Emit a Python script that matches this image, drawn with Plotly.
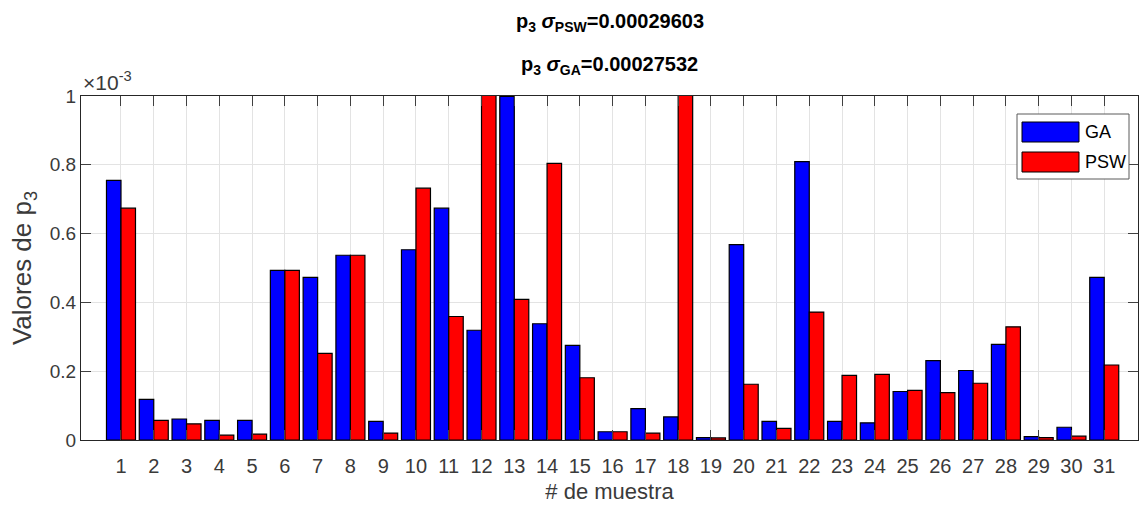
import plotly.graph_objects as go

# Sample index and p3 estimates (in units of 1e-3)
muestras = list(range(1, 32))
ga_vals = [0.755, 0.118, 0.061, 0.057, 0.057, 0.493, 0.473, 0.537, 0.054, 0.553,
           0.674, 0.319, 0.999, 0.338, 0.275, 0.024, 0.091, 0.067, 0.007, 0.568,
           0.054, 0.809, 0.054, 0.050, 0.141, 0.231, 0.202, 0.278, 0.010, 0.037,
           0.473]
psw_vals = [0.674, 0.057, 0.047, 0.014, 0.017, 0.493, 0.252, 0.537, 0.020, 0.732,
            0.359, 1.150, 0.409, 0.804, 0.181, 0.024, 0.020, 1.100, 0.006, 0.162,
            0.034, 0.372, 0.188, 0.191, 0.144, 0.138, 0.165, 0.329, 0.007, 0.011,
            0.218]
series_names = ["GA", "PSW"]
series_colors = ["#0000ff", "#ff0000"]
sigma_psw = "0.00029603"
sigma_ga = "0.00027532"
y_ticks = [0, 0.2, 0.4, 0.6, 0.8, 1]

FONT = "Liberation Sans, Arial, sans-serif"
TXT = "#262626"
LBL = "#3a3a3a"

# plot-area geometry (pixels) used to place the overlay items
W, H = 1139, 512
L, R, T, B = 81, 1138, 96, 440


def px(x):
    return (x - L) / (R - L)


def py(y):
    return (B - y) / (B - T)


fig = go.Figure()
for name, vals, col in zip(series_names, [ga_vals, psw_vals], series_colors):
    fig.add_trace(go.Bar(
        x=muestras, y=vals, name=name,
        marker=dict(color=col, line=dict(color="#000000", width=1.2)),
        showlegend=False,
    ))

fig.update_layout(
    width=W, height=H,
    margin=dict(l=L, r=W - R, t=T, b=H - B),
    paper_bgcolor="white", plot_bgcolor="white",
    barmode="group", bargap=0.115, bargroupgap=0,
    font=dict(family=FONT, color=TXT),
)

fig.update_xaxes(
    range=[-0.22, 32.03], tickmode="array", tickvals=muestras,
    ticktext=[str(m) for m in muestras],
    showgrid=True, gridcolor="#e3e3e3", gridwidth=1,
    ticks="inside", ticklen=10, tickcolor="#404040", tickwidth=1,
    showline=True, linecolor=TXT, linewidth=1, mirror="ticks",
    tickfont=dict(size=20, color=LBL), ticklabelstandoff=8,
    title=dict(text="# de muestra", font=dict(size=22, color=LBL), standoff=7),
    zeroline=False,
)
fig.update_yaxes(
    range=[0, 1], tickmode="array", tickvals=y_ticks,
    ticktext=[f"{v:g}" for v in y_ticks],
    showgrid=True, gridcolor="#e3e3e3", gridwidth=1,
    ticks="inside", ticklen=10, tickcolor="#404040", tickwidth=1,
    showline=True, linecolor=TXT, linewidth=1, mirror="ticks",
    tickfont=dict(size=19, color=LBL),
    title=dict(text="Valores de p<sub>3</sub>", font=dict(size=26, color=LBL), standoff=10),
    zeroline=False,
)

# two-line bold title
fig.add_annotation(
    x=0.5, y=py(22), xref="paper", yref="paper", showarrow=False,
    text="<b>p<sub>3</sub> <i>σ</i><sub>PSW</sub>=%s</b>" % sigma_psw,
    font=dict(size=20, color="#000000"), yanchor="middle",
)
fig.add_annotation(
    x=0.5, y=py(65), xref="paper", yref="paper", showarrow=False,
    text="<b>p<sub>3</sub> <i>σ</i><sub>GA</sub>=%s</b>" % sigma_ga,
    font=dict(size=20, color="#000000"), yanchor="middle",
)
# axis exponent
fig.add_annotation(
    x=0, y=1, xref="paper", yref="paper", showarrow=False,
    xanchor="left", yanchor="bottom", yshift=0,
    text="×10<sup>-3</sup>", font=dict(size=21, color=LBL),
)

# legend box with wide colour patches
fig.add_shape(type="rect", xref="paper", yref="paper",
              x0=px(1017), x1=px(1129), y0=py(114), y1=py(179),
              line=dict(color="#5a5a5a", width=1), fillcolor="white", layer="above")
for i, (name, col) in enumerate(zip(series_names, series_colors)):
    y0 = 122 + i * 30
    fig.add_shape(type="rect", xref="paper", yref="paper",
                  x0=px(1022), x1=px(1079), y0=py(y0), y1=py(y0 + 20),
                  line=dict(color="#000000", width=1), fillcolor=col, layer="above")
    fig.add_annotation(x=px(1083), y=py(y0 + 10), xref="paper", yref="paper",
                       showarrow=False, xanchor="left", yanchor="middle",
                       text=name, font=dict(size=18, color="#000000"))

fig.write_html("out.html")
